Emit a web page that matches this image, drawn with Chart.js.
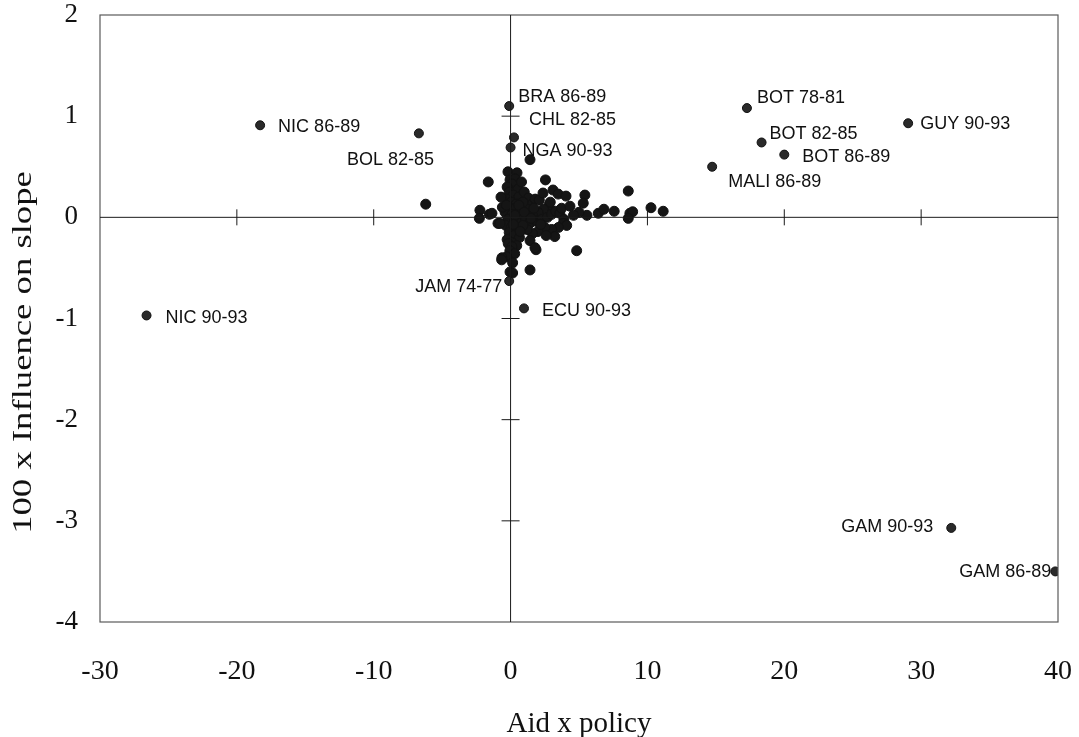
<!DOCTYPE html>
<html>
<head>
<meta charset="utf-8">
<script src="https://cdn.jsdelivr.net/npm/chart.js@4"></script>
<style>
  html, body { margin: 0; padding: 0; background: #fff; }
  #wrap { width: 1079px; height: 737px; }
</style>
</head>
<body>
<div id="wrap"><canvas id="myChart"></canvas></div>
<script>
// labelled country-periods
const names = ['NIC 86-89', 'NIC 90-93', 'BOL 82-85', 'BRA 86-89', 'CHL 82-85', 'NGA 90-93',
    'JAM 74-77', 'ECU 90-93', 'BOT 78-81', 'GUY 90-93', 'BOT 82-85', 'BOT 86-89',
    'MALI 86-89', 'GAM 90-93', 'GAM 86-89'];
const namedX = [-18.3, -26.6, -6.7, -0.1, 0.25, 0.0, -0.1, 0.98, 17.27, 29.05, 18.34, 20.0, 14.73, 32.2, 39.8];
const namedY = [0.91, -0.97, 0.83, 1.10, 0.79, 0.69, -0.63, -0.90, 1.08, 0.93, 0.74, 0.62, 0.50, -3.07, -3.50];

// the rest of the observations (unlabelled)
const otherX = [-6.2, 1.42, -0.19, 0.47, -0.04, 0.32, 0.1, -0.25, 0.55, -0.1, 0.2, 0.6, -0.3, 0.05, 0.4,
    -0.15, 0.25, 0.7, -0.4, 0.1, 0.5, -0.2, 0.3, 0.8, -0.35, 0.05, 0.45, -0.1, 0.25, 0.65,
    -0.25, 0.1, -0.17, 0.45, 0.1, -0.05, 0.3, -0.29, -0.63, -0.65, 0.15, -0.04, 0.15,
    1.0, 1.3, 1.5, 1.2, 0.9, 1.8, 2.1, 2.37, 2.55, 3.1, 3.48, 4.05, 2.8, 2.4, 2.0, 1.6,
    1.1, 1.4, 1.9, 2.3, 2.7, 3.0, 3.3, 3.6, 3.73, 4.34, 3.9, 3.85, 4.1, 3.5, 3.0, 2.5,
    2.0, 1.6, 1.2, 0.9, 1.42, 1.86, 1.78, 3.23, 2.6, 4.83, 1.42, 0.8,
    -1.63, -2.24, -1.55, -2.28, -1.36, -0.92, -0.77, -0.6, -0.7,
    5.43, 5.31, 5.58, 6.41, 6.82, 7.57, 8.6, 8.72, 8.92, 8.6, 10.26, 11.15, 5.0, 4.6,
    0.6, 1.0, 1.7, 2.2, 0.3, 0.7, 1.5, 2.9, -0.3, 0.2];
const otherY = [0.13, 0.57, 0.45, 0.44, 0.37, 0.38, 0.33, 0.30, 0.28, 0.25, 0.22, 0.20, 0.18, 0.15, 0.13,
    0.10, 0.08, 0.06, 0.05, 0.03, 0.01, -0.02, -0.04, -0.05, -0.08, -0.10, -0.12, -0.15, -0.18, -0.20,
    -0.22, -0.25, -0.26, -0.28, -0.29, -0.33, -0.36, -0.39, -0.40, -0.42, -0.45, -0.54, -0.55,
    0.25, 0.19, 0.12, 0.08, 0.15, 0.18, 0.17, 0.24, 0.37, 0.27, 0.23, 0.21, 0.12, 0.08, 0.05, 0.02,
    -0.02, -0.06, -0.04, -0.02, 0.0, 0.03, 0.06, 0.04, 0.09, 0.11, -0.02, -0.06, -0.08, -0.10, -0.12, -0.10,
    -0.14, -0.16, -0.12, -0.08, -0.23, -0.32, -0.30, -0.19, -0.18, -0.33, -0.52, 0.35,
    0.35, 0.07, 0.03, -0.01, 0.04, -0.06, -0.06, 0.10, 0.20,
    0.22, 0.14, 0.02, 0.04, 0.08, 0.06, 0.26, 0.04, 0.055, -0.01, 0.095, 0.06, 0.05, 0.02,
    0.12, 0.05, 0.09, -0.07, 0.02, -0.14, -0.01, 0.15, 0.12, -0.07];

const xTicks = [-30, -20, -10, 0, 10, 20, 30, 40];
const yTicks = [-4, -3, -2, -1, 0, 1, 2];

// where each name sits relative to its dot (pixels)
const labelPos = {
    'NIC 86-89': [18, 2, 'left'], 'NIC 90-93': [19, 3, 'left'], 'BOL 82-85': [-72, 27, 'left'],
    'BRA 86-89': [9, -9, 'left'], 'CHL 82-85': [15, -17, 'left'], 'NGA 90-93': [12, 4, 'left'],
    'JAM 74-77': [-7, 6, 'right'], 'ECU 90-93': [18, 3, 'left'], 'BOT 78-81': [10, -10, 'left'],
    'GUY 90-93': [12, 1, 'left'], 'BOT 82-85': [8, -8, 'left'], 'BOT 86-89': [18, 2, 'left'],
    'MALI 86-89': [16, 15, 'left'], 'GAM 90-93': [-18, -1, 'right'], 'GAM 86-89': [-4, 1, 'right']
};

const serif = "'Liberation Serif', 'Times New Roman', serif";

// frame, zero axes with cross ticks
const axesPlugin = {
    id: 'axesPlugin',
    afterDraw(chart) {
        const {ctx, chartArea: a, scales: {x, y}} = chart;
        const x0 = x.getPixelForValue(0);
        const y0 = y.getPixelForValue(0);
        ctx.save();
        ctx.strokeStyle = '#5a5a5a';
        ctx.lineWidth = 1.2;
        ctx.strokeRect(a.left, a.top, a.right - a.left, a.bottom - a.top);
        ctx.strokeStyle = '#1a1a1a';
        ctx.lineWidth = 1;
        ctx.beginPath();
        ctx.moveTo(a.left, y0); ctx.lineTo(a.right, y0);
        ctx.moveTo(x0, a.top); ctx.lineTo(x0, a.bottom);
        xTicks.slice(1, -1).forEach(v => {
            const px = x.getPixelForValue(v);
            ctx.moveTo(px, y0 - 8); ctx.lineTo(px, y0 + 8);
        });
        yTicks.slice(1, -1).forEach(v => {
            const py = y.getPixelForValue(v);
            ctx.moveTo(x0 - 9, py); ctx.lineTo(x0 + 9, py);
        });
        ctx.stroke();

        // y axis title, a bit stretched along its length as in the original
        ctx.translate(24, (a.top + a.bottom) / 2 + 34);
        ctx.rotate(-Math.PI / 2);
        ctx.scale(1.31, 1);
        ctx.font = '28px ' + serif;
        ctx.fillStyle = '#111';
        ctx.textAlign = 'center';
        ctx.textBaseline = 'middle';
        ctx.fillText('100 x Influence on slope', 0, 0);
        ctx.restore();
    }
};

const namePlugin = {
    id: 'namePlugin',
    afterDatasetsDraw(chart) {
        const {ctx} = chart;
        const meta = chart.getDatasetMeta(0);
        ctx.save();
        ctx.font = "18px 'Liberation Sans', Arial, sans-serif";
        ctx.fillStyle = '#111';
        ctx.textBaseline = 'middle';
        meta.data.forEach((pt, i) => {
            const p = labelPos[names[i]];
            ctx.textAlign = p[2];
            ctx.fillText(names[i], pt.x + p[0], pt.y + p[1]);
        });
        ctx.restore();
    }
};

const config = {
    type: 'scatter',
    data: {
        datasets: [{
            data: namedX.map((v, i) => ({x: v, y: namedY[i]})),
            backgroundColor: '#2a2a2a',
            borderColor: '#111',
            borderWidth: 1,
            pointRadius: 4.5
        }, {
            data: otherX.map((v, i) => ({x: v, y: otherY[i]})),
            backgroundColor: '#151515',
            borderColor: '#111',
            borderWidth: 1,
            pointRadius: 5
        }]
    },
    options: {
        responsive: true,
        maintainAspectRatio: false,
        animation: false,
        layout: {padding: {top: 15, right: 21, left: 0, bottom: 0}},
        plugins: {legend: {display: false}, tooltip: {enabled: false}},
        scales: {
            x: {
                type: 'linear', min: -30, max: 40,
                afterFit: s => { s.height = 115; s.paddingLeft = 0; s.paddingRight = 0; },
                afterBuildTicks: s => { s.ticks = xTicks.map(v => ({value: v})); },
                grid: {display: false, drawTicks: false},
                border: {display: false},
                ticks: {color: '#111', font: {family: serif, size: 28}, padding: 33, maxRotation: 0},
                title: {display: true, text: 'Aid x policy', color: '#111',
                    font: {family: serif, size: 29}, padding: {top: 0, bottom: -5}}
            },
            y: {
                type: 'linear', min: -4, max: 2,
                afterFit: s => { s.width = 100; s.paddingTop = 0; s.paddingBottom = 0; },
                afterBuildTicks: s => { s.ticks = yTicks.map(v => ({value: v})); },
                grid: {display: false, drawTicks: false},
                border: {display: false},
                ticks: {color: '#111', font: {family: serif, size: 27}, padding: 22}
            }
        }
    },
    plugins: [axesPlugin, namePlugin]
};

const myChart = new Chart(document.getElementById('myChart'), config);
</script>
</body>
</html>
